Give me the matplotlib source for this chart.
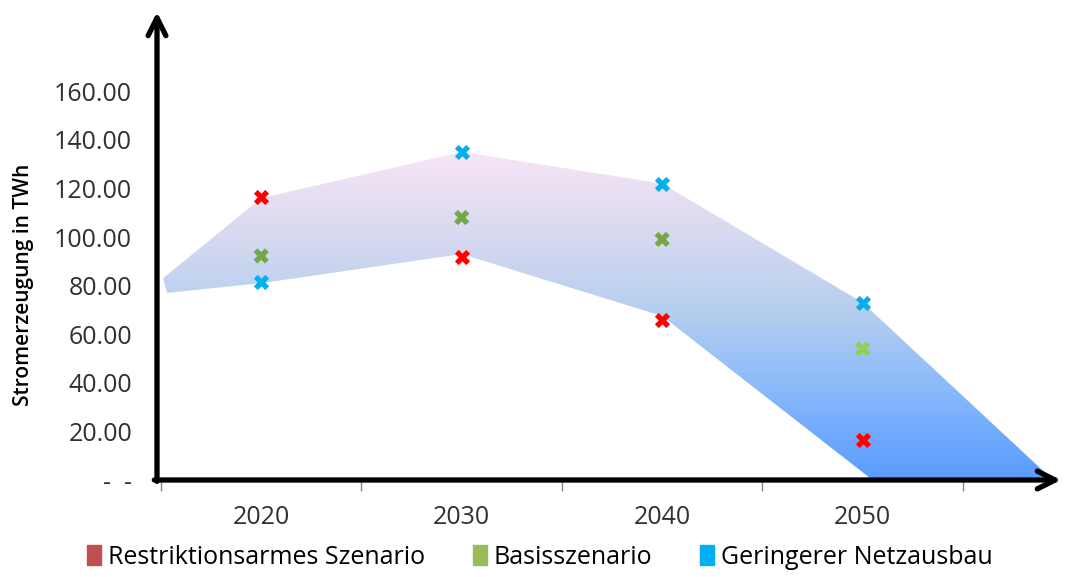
import numpy as np
import matplotlib
matplotlib.use("Agg")
import matplotlib.pyplot as plt
from matplotlib.colors import LinearSegmentedColormap
from matplotlib.patches import Polygon, Patch

# ==========================
# DATEN
# ==========================
jahre = ["2020", "2030", "2040", "2050"]
restriktionsarm = [116.5, 91.8, 66.0, 16.5]
basis = [92.2, 108.0, 99.0, 54.0]
netzausbau = [81.5, 135.0, 122.0, 73.0]

# Band (Excel-Flaeche): obere und untere Kante
band_oben_x = [-0.49, 0.0, 1.0, 2.0, 3.0, 3.95]
band_oben_y = [83.0, 116.0, 135.0, 122.0, 73.0, 0.0]
band_unten_x = [3.05, 2.0, 1.0, 0.0, -0.47]
band_unten_y = [0.0, 67.5, 93.0, 81.0, 77.0]

ytick_werte = [0, 20, 40, 60, 80, 100, 120, 140, 160]
ytick_labels = ["-  -", "20.00", "40.00", "60.00", "80.00", "100.00",
                "120.00", "140.00", "160.00"]

farbe_rot = "#ff0000"
farbe_gruen = ["#74a846", "#74a846", "#74a846", "#92d050"]
farbe_blau = "#00b0f0"

plt.rcParams['font.family'] = ['Open Sans', 'DejaVu Sans']

fig = plt.figure(figsize=(10.67, 5.77), dpi=100)
ax = fig.add_axes([157 / 1067, 97 / 577, (1061 - 157) / 1067, (480 - 12) / 577])
ax.set_xlim(-0.52, 3.99)
ax.set_ylim(0, 192.6)

# ===== BAND MIT VERLAUF =====
poly_x = band_oben_x + band_unten_x
poly_y = band_oben_y + band_unten_y
poly = Polygon(np.column_stack([poly_x, poly_y]), closed=True,
               facecolor="none", edgecolor="none")
ax.add_patch(poly)

cmap = LinearSegmentedColormap.from_list(
    "verlauf", ["#5a9bff", "#84b7fb", "#b4ceef", "#d8daef", "#f9e5f7"])
grad = np.linspace(0, 1, 256).reshape(-1, 1)
im = ax.imshow(grad, extent=[-0.52, 3.99, 0, 136], origin="lower",
               aspect="auto", cmap=cmap, zorder=1)
im.set_clip_path(poly)

# ===== MARKER =====
x = np.arange(len(jahre))
ax.scatter(x, restriktionsarm, marker="X", s=120, color=farbe_rot,
           linewidths=0, zorder=3)
ax.scatter(x, basis, marker="X", s=120, color=farbe_gruen,
           linewidths=0, zorder=3)
ax.scatter(x, netzausbau, marker="X", s=120, color=farbe_blau,
           linewidths=0, zorder=3)

# ===== ACHSEN =====
for s in ax.spines.values():
    s.set_visible(False)

ax.annotate("", xy=(0, 1.0), xytext=(0, -0.003), xycoords="axes fraction",
            arrowprops=dict(arrowstyle="->", lw=3.8, color="black",
                            mutation_scale=32, shrinkA=0, shrinkB=0))
ax.annotate("", xy=(1.0, 0), xytext=(-0.003, 0), xycoords="axes fraction",
            arrowprops=dict(arrowstyle="->", lw=3.8, color="black",
                            mutation_scale=32, shrinkA=0, shrinkB=0))

ax.set_yticks(ytick_werte)
ax.set_yticklabels(ytick_labels, fontsize=18, color="#303030")
ax.tick_params(axis="y", length=0, pad=18)

ax.set_xticks(x)
ax.set_xticklabels(jahre, fontsize=18, color="#303030")
ax.set_xticks([-0.5, 0.5, 1.5, 2.5, 3.5], minor=True)
ax.tick_params(axis="x", which="major", length=0, pad=18)
ax.tick_params(axis="x", which="minor", length=8, color="#888888", width=1)

fig.text(24 / 1067, 1 - 285 / 577, "Stromerzeugung in TWh", rotation=90,
         ha="center", va="center", fontsize=15, fontweight="semibold",
         color="black")

# ===== LEGENDE =====
handles = [Patch(color="#c0504d", label="Restriktionsarmes Szenario"),
           Patch(color="#9bbb59", label="Basisszenario"),
           Patch(color="#00b0f0", label="Geringerer Netzausbau")]
fig.legend(handles=handles, loc="center", bbox_to_anchor=(540 / 1067, 1 - 557 / 577),
           ncol=3, frameon=False, fontsize=18, handlelength=0.55,
           handleheight=0.9, handletextpad=0.3, columnspacing=1.9)

fig.savefig("out.png", dpi=100)
